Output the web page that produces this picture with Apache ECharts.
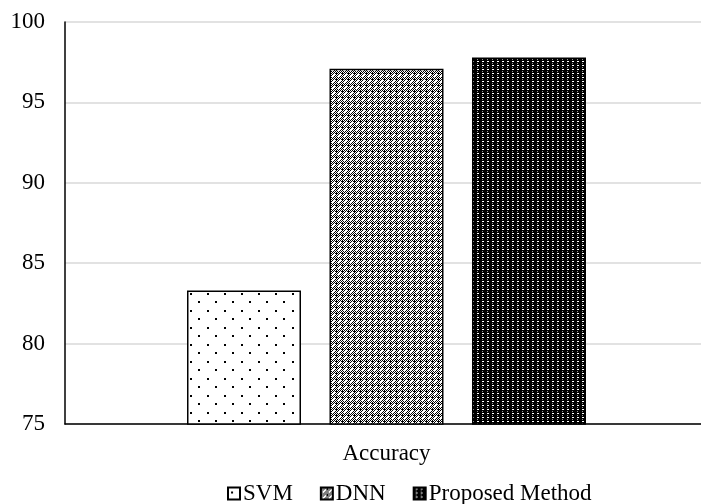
<!DOCTYPE html>
<html><head><meta charset="utf-8">
<script src="https://cdn.jsdelivr.net/npm/echarts@6/dist/echarts.min.js"></script>
<style>html,body{margin:0;padding:0;background:#fff;overflow:hidden}#c{width:708px;height:504px}</style>
</head><body><div id="c"></div>
<script>
const categories = ['Accuracy'];
const seriesNames = ['SVM', 'DNN', 'Proposed Method'];
const svmValues = [83.3];
const dnnValues = [97.1];
const proposedValues = [97.8];
const yTicks = [75, 80, 85, 90, 95, 100];

function tile(w, h, draw) {
  const c = document.createElement('canvas');
  c.width = w; c.height = h;
  const g = c.getContext('2d');
  draw(g);
  return c;
}
const svmPat = tile(17, 17, g => {
  g.fillStyle = '#fff'; g.fillRect(0, 0, 17, 17);
  g.fillStyle = '#000';
  g.fillRect(3, 4, 2, 2);
  g.fillRect(11, 12, 2, 2);
});
const dnnPat = tile(6, 6, g => {
  g.fillStyle = '#fff'; g.fillRect(0, 0, 6, 6);
  g.fillStyle = '#000';
  for (let y = 0; y < 6; y++) for (let x = 0; x < 6; x++) {
    if ((x + y) % 2 === 0 && !(x === 3 && y === 3) && !(x === 2 && y === 4) && !(x === 4 && y === 2)) g.fillRect(x, y, 1, 1);
  }
  g.fillRect(0, 1, 1, 1);
});
const propPat = tile(5, 4, g => {
  g.fillStyle = '#000'; g.fillRect(0, 0, 5, 4);
  g.fillStyle = '#fff';
  g.fillRect(2, 1, 2, 1);
  g.fillStyle = '#999';
  g.fillRect(2, 3, 1, 1);
});

const font = '"Liberation Serif", "Times New Roman", serif';
const chart = echarts.init(document.getElementById('c'), null, {renderer: 'canvas'});
function mk(name, data, pat) {
  return {
    name, type: 'bar', data,
    barWidth: 114, barGap: '25%',
    itemStyle: {color: {image: pat, repeat: 'repeat'}, borderColor: '#000', borderWidth: 1.5}
  };
}
chart.setOption({
  animation: false,
  textStyle: {fontFamily: font},
  grid: {left: 65, right: 0, top: 22, bottom: 80, containLabel: false},
  legend: {
    top: 477, left: 222, icon: 'rect', itemWidth: 12, itemHeight: 12, itemGap: 27,
    textStyle: {fontFamily: font, fontSize: 23, color: '#000', padding: [0, 0, 0, -2]},
    data: seriesNames
  },
  xAxis: {
    type: 'category', data: categories,
    axisLine: {lineStyle: {color: '#000', width: 1.5}},
    axisTick: {show: false},
    axisLabel: {fontFamily: font, fontSize: 23, color: '#000', margin: 18}
  },
  yAxis: {
    type: 'value', min: yTicks[0], max: yTicks[yTicks.length - 1], interval: 5,
    axisLine: {show: true, lineStyle: {color: '#000', width: 1.5}},
    axisTick: {show: false},
    axisLabel: {fontFamily: font, fontSize: 23, color: '#000', margin: 20},
    splitLine: {lineStyle: {color: '#d9d9d9', width: 1.5}}
  },
  series: [
    mk(seriesNames[0], svmValues, svmPat),
    mk(seriesNames[1], dnnValues, dnnPat),
    mk(seriesNames[2], proposedValues, propPat)
  ]
});
</script></body></html>
